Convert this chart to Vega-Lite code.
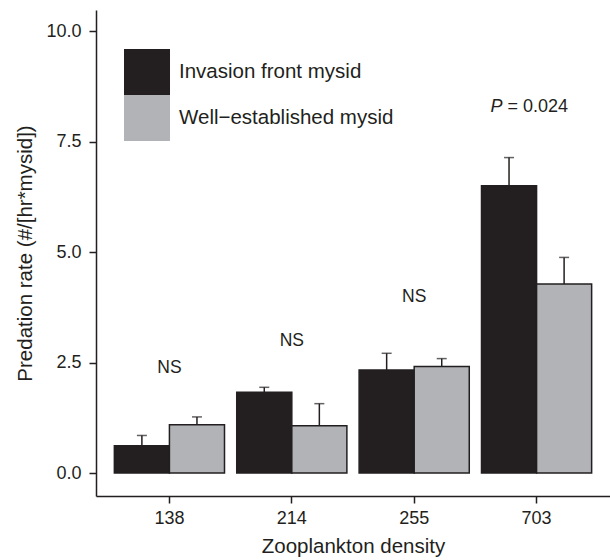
{
  "$schema": "https://vega.github.io/schema/vega-lite/v6.json",
  "autosize": "none",
  "width": 514,
  "height": 486,
  "padding": {"left": 96, "top": 10, "right": 0, "bottom": 64},
  "background": "white",
  "config": {
    "font": "Liberation Sans",
    "view": {"stroke": null},
    "axis": {"grid": false, "domainColor": "#231F20", "domainWidth": 1.5, "tickColor": "#231F20", "tickWidth": 1.5, "tickSize": 7, "labelColor": "#231F20", "titleColor": "#231F20", "labelFont": "Liberation Sans", "titleFont": "Liberation Sans", "labelFontSize": 18, "titleFontSize": 20.5, "titleFontWeight": "normal"}
  },
  "datasets": {
    "bars": [
      {"density": "138", "group": "Invasion front mysid", "rate": 0.62, "upper": 0.85},
      {"density": "138", "group": "Well−established mysid", "rate": 1.09, "upper": 1.27},
      {"density": "214", "group": "Invasion front mysid", "rate": 1.83, "upper": 1.94},
      {"density": "214", "group": "Well−established mysid", "rate": 1.07, "upper": 1.57},
      {"density": "255", "group": "Invasion front mysid", "rate": 2.33, "upper": 2.71},
      {"density": "255", "group": "Well−established mysid", "rate": 2.41, "upper": 2.59},
      {"density": "703", "group": "Invasion front mysid", "rate": 6.5, "upper": 7.14},
      {"density": "703", "group": "Well−established mysid", "rate": 4.28, "upper": 4.88}
    ],
    "notes": [
      {"density": "138", "y": 2.38, "label": "NS"},
      {"density": "214", "y": 2.99, "label": "NS"},
      {"density": "255", "y": 3.98, "label": "NS"}
    ],
    "pnote": [
      {"density": "703", "y": 8.29, "p": "P", "rest": "= 0.024"}
    ]
  },
  "layer": [
    {
      "data": {"name": "bars"},
      "mark": {"type": "rule", "stroke": "#231F20", "strokeWidth": 1.5},
      "encoding": {
        "x": {"field": "density", "type": "nominal"},
        "xOffset": {"field": "group", "type": "nominal"},
        "y": {"field": "rate", "type": "quantitative"},
        "y2": {"field": "upper"}
      }
    },
    {
      "data": {"name": "bars"},
      "mark": {"type": "tick", "color": "#231F20", "size": 10, "thickness": 1.5, "orient": "horizontal"},
      "encoding": {
        "x": {"field": "density", "type": "nominal"},
        "xOffset": {"field": "group", "type": "nominal"},
        "y": {"field": "upper", "type": "quantitative"}
      }
    },
    {
      "data": {"name": "bars"},
      "mark": {"type": "bar", "stroke": "#231F20", "strokeWidth": 1.5},
      "encoding": {
        "x": {
          "field": "density", "type": "nominal",
          "scale": {"paddingInner": 0.1, "paddingOuter": 0.15},
          "axis": {"title": "Zooplankton density", "labelAngle": 0, "labelAlign": "center", "labelBaseline": "top", "labelPadding": 6, "titlePadding": 9}
        },
        "xOffset": {"field": "group", "type": "nominal"},
        "y": {
          "field": "rate", "type": "quantitative",
          "scale": {"domain": [-0.52, 10.48], "nice": false, "zero": false},
          "axis": {"title": "Predation rate (#/[hr*mysid])", "values": [0, 2.5, 5, 7.5, 10], "format": ".1f", "labelPadding": 8, "titlePadding": 10}
        },
        "fill": {
          "field": "group", "type": "nominal",
          "scale": {"domain": ["Invasion front mysid", "Well−established mysid"], "range": ["#231F20", "#B1B3B6"]},
          "legend": {
            "orient": "none", "legendX": 28, "legendY": 39, "title": null,
            "symbolType": "square", "symbolSize": 2116, "symbolStrokeWidth": 0,
            "labelFontSize": 20.5, "labelFont": "Liberation Sans", "labelColor": "#231F20", "labelOffset": 9, "labelLimit": 0,
            "rowPadding": 0, "padding": 0
          }
        }
      }
    },
    {
      "data": {"name": "notes"},
      "mark": {"type": "text", "fontSize": 17.5, "color": "#231F20", "baseline": "middle"},
      "encoding": {
        "x": {"field": "density", "type": "nominal"},
        "y": {"field": "y", "type": "quantitative"},
        "text": {"field": "label"}
      }
    },
    {
      "data": {"name": "pnote"},
      "mark": {"type": "text", "fontSize": 18, "fontStyle": "italic", "color": "#231F20", "baseline": "middle", "align": "right", "dx": -34},
      "encoding": {
        "x": {"field": "density", "type": "nominal"},
        "y": {"field": "y", "type": "quantitative"},
        "text": {"field": "p"}
      }
    },
    {
      "data": {"name": "pnote"},
      "mark": {"type": "text", "fontSize": 18, "color": "#231F20", "baseline": "middle", "align": "left", "dx": -29},
      "encoding": {
        "x": {"field": "density", "type": "nominal"},
        "y": {"field": "y", "type": "quantitative"},
        "text": {"field": "rest"}
      }
    }
  ]
}
